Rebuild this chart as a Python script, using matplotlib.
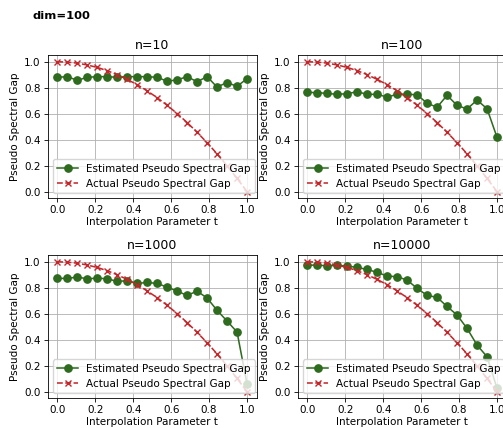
import matplotlib
matplotlib.use('Agg')
import matplotlib.pyplot as plt

# interpolation parameter (20 samples) and the values
t = [0.0, 0.0526, 0.1053, 0.1579, 0.2105, 0.2632, 0.3158, 0.3684, 0.4211, 0.4737,
     0.5263, 0.5789, 0.6316, 0.6842, 0.7368, 0.7895, 0.8421, 0.8947, 0.9474, 1.0]

actual_gap = [1.0, 0.997, 0.989, 0.975, 0.956, 0.931, 0.900, 0.864, 0.823, 0.776,
              0.723, 0.665, 0.601, 0.532, 0.457, 0.377, 0.291, 0.199, 0.102, 0.0]

est_n10 = [0.88, 0.885, 0.857, 0.88, 0.885, 0.885, 0.88, 0.885, 0.885, 0.885,
           0.88, 0.85, 0.86, 0.885, 0.846, 0.885, 0.805, 0.84, 0.81, 0.87]
est_n100 = [0.764, 0.762, 0.756, 0.749, 0.754, 0.769, 0.749, 0.749, 0.728, 0.749,
            0.749, 0.746, 0.68, 0.65, 0.741, 0.664, 0.636, 0.705, 0.638, 0.418]
est_n1000 = [0.872, 0.872, 0.882, 0.869, 0.874, 0.869, 0.849, 0.854, 0.833, 0.841,
             0.833, 0.805, 0.774, 0.741, 0.774, 0.721, 0.626, 0.544, 0.459, 0.059]
est_n10000 = [0.974, 0.974, 0.969, 0.972, 0.967, 0.956, 0.941, 0.918, 0.890, 0.885,
              0.859, 0.795, 0.741, 0.726, 0.656, 0.590, 0.487, 0.359, 0.269, 0.026]

titles = ['n=10', 'n=100', 'n=1000', 'n=10000']
estimates = [est_n10, est_n100, est_n1000, est_n10000]

s = 0.75  # the original was drawn larger and scaled down
plt.rcParams['font.size'] = 10 * s
plt.rcParams['axes.linewidth'] = 0.8 * s
plt.rcParams['xtick.major.width'] = 0.8 * s
plt.rcParams['ytick.major.width'] = 0.8 * s
plt.rcParams['xtick.major.size'] = 3.5 * s
plt.rcParams['ytick.major.size'] = 3.5 * s
plt.rcParams['xtick.major.pad'] = 3.0 * s
plt.rcParams['ytick.major.pad'] = 3.5 * s
plt.rcParams['grid.linewidth'] = 0.8 * s
plt.rcParams['axes.titlesize'] = 12 * s
plt.rcParams['axes.labelsize'] = 10 * s
plt.rcParams['legend.fontsize'] = 10 * s
plt.rcParams['axes.titlepad'] = 6 * s
plt.rcParams['axes.labelpad'] = 1.5

fig = plt.figure(figsize=(5.03, 4.28), dpi=100)
positions = [[0.095, 0.537, 0.415, 0.334],
             [0.592, 0.537, 0.415, 0.334],
             [0.095, 0.0696, 0.415, 0.334],
             [0.592, 0.0696, 0.415, 0.334]]

for pos, title, est in zip(positions, titles, estimates):
    ax = fig.add_axes(pos)
    ax.plot(t, est, '-o', color='#2e6b1f', lw=1.5 * s, ms=7 * s,
            label='Estimated Pseudo Spectral Gap')
    ax.plot(t, actual_gap, '--x', color='#c4262a', lw=1.5 * s, ms=6 * s,
            label='Actual Pseudo Spectral Gap')
    ax.set_title(title)
    ax.set_xlabel('Interpolation Parameter t')
    ax.set_ylabel('Pseudo Spectral Gap', labelpad=3)
    ax.set_xticks([0.0, 0.2, 0.4, 0.6, 0.8, 1.0])
    ax.set_yticks([0.0, 0.2, 0.4, 0.6, 0.8, 1.0])
    ax.grid(True)
    ax.legend(loc='lower left', borderaxespad=0.5)

fig.text(0.065, 0.962, 'dim=100', fontsize=11 * s, fontweight='bold',
         ha='left', va='center')

fig.savefig('out.png', dpi=100)
plt.close(fig)
